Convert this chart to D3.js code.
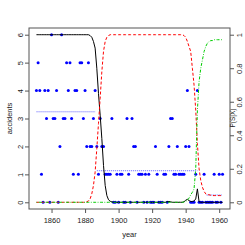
<!DOCTYPE html>
<html>
<head>
<meta charset="utf-8">
<script src="https://cdn.jsdelivr.net/npm/d3@7"></script>
<style>
  body { margin: 0; background: #fff; }
  svg { display: block; font-family: "Liberation Sans", Arial, sans-serif; }
</style>
</head>
<body>
<svg id="chart"></svg>
<script>
var firstYear = 1851;

// accidents per year, 1851-1962
var accidents = [4,5,4,1,0,4,3,4,0,6,3,3,4,0,2,6,3,3,5,4,5,3,1,4,4,1,5,5,3,4,
  2,5,2,2,3,4,2,1,3,2,2,1,1,1,1,3,0,0,1,0,1,1,0,0,3,1,0,3,2,2,
  0,1,1,1,0,1,0,1,0,0,0,2,1,0,0,0,1,1,0,2,3,3,1,1,2,1,1,1,1,2,
  4,2,0,0,0,1,4,0,0,0,1,0,0,0,0,0,1,0,0,1,0,1];

// posterior state probabilities, one per year
var pState1 = [1,1,1,1,1,1,1,1,1,1, 1,1,1,1,1,1,1,1,1,1,
  1,1,1,1,1,1,1,1,1,1, 1,1,0.995,0.985,0.96,0.92,0.8,0.65,0.52,0.38,
  0.22,0.1,0.04,0.015,0.006,0.003,0,0,0,0, 0,0,0,0,0,0,0,0,0,0,
  0,0,0,0,0,0,0,0,0,0, 0,0,0,0,0,0,0,0,0.003,0.005,
  0.003,0,0,0,0,0,0,0,0.003,0.012, 0.018,0.01,0.005,0.004,0.008,0.02,0.08,0.003,0,0,
  0,0,0,0,0,0,0,0,0,0, 0,0];

var pState2 = [0,0,0,0,0,0,0,0,0,0, 0,0,0,0,0,0,0,0,0,0,
  0,0,0,0,0,0,0,0,0,0, 0.003,0.008,0.02,0.05,0.1,0.18,0.32,0.47,0.62,0.78,
  0.9,0.96,0.985,0.995,1,1,1,1,1,1, 1,1,1,1,1,1,1,1,1,1,
  1,1,1,1,1,1,1,1,1,1, 1,1,1,1,1,1,1,1,1,1,
  1,1,1,1,1,1,1,1,0.995,0.985, 0.96,0.93,0.9,0.8,0.7,0.55,0.35,0.2,0.13,0.09,
  0.065,0.05,0.045,0.045,0.042,0.04,0.04,0.04,0.04,0.04, 0.04,0.04];

var pState3 = [0,0,0,0,0,0,0,0,0,0, 0,0,0,0,0,0,0,0,0,0,
  0,0,0,0,0,0,0,0,0,0, 0,0,0,0,0,0,0,0,0,0,
  0,0,0,0,0,0,0,0,0,0, 0,0,0,0,0,0,0,0,0,0,
  0,0,0,0,0,0,0,0,0,0, 0,0,0,0,0,0,0,0,0,0,
  0,0,0,0,0,0,0,0,0.002,0.005, 0.012,0.025,0.045,0.06,0.08,0.2,0.55,0.72,0.8,0.85,
  0.9,0.93,0.95,0.96,0.965,0.965,0.97,0.97,0.97,0.97, 0.97,0.97];

// segment means (dotted blue)
var segStart = [1851, 1887, 1952.5];
var segEnd = [1886, 1947, 1962];
var segMean = [3.24, 1.13, 0.26];

var xTicks = [1860, 1880, 1900, 1920, 1940, 1960];
var yTicks = [0, 1, 2, 3, 4, 5, 6];
var pTicks = [0, 0.2, 0.4, 0.6, 0.8, 1];

var width = 245, height = 245;
var box = { left: 29, right: 230, top: 28, bottom: 209 };

var svg = d3.select("#chart").attr("width", width).attr("height", height);

var years = accidents.map(function(d, i) { return firstYear + i; });

var x = d3.scaleLinear().domain([1846.56, 1966.44]).range([box.left, box.right]);
var y = d3.scaleLinear().domain([-0.24, 6.24]).range([box.bottom, box.top]);
var yP = d3.scaleLinear().domain([-0.04, 1.04]).range([box.bottom, box.top]);

// points
svg.append("g")
  .selectAll("circle")
  .data(accidents)
  .join("circle")
    .attr("cx", function(d, i) { return x(years[i]); })
    .attr("cy", function(d) { return y(d); })
    .attr("r", 1.5)
    .attr("fill", "#0000ff");

// segment means
svg.append("g")
  .selectAll("line")
  .data(segMean)
  .join("line")
    .attr("x1", function(d, i) { return x(segStart[i]); })
    .attr("x2", function(d, i) { return x(segEnd[i]); })
    .attr("y1", function(d) { return y(d); })
    .attr("y2", function(d) { return y(d); })
    .attr("stroke", "#7878ff")
    .attr("stroke-width", 1)
    .attr("stroke-dasharray", "1.2,0.8");

// probability curves
var pLine = d3.line()
  .x(function(d, i) { return x(years[i]); })
  .y(function(d) { return yP(d); });

svg.append("path").datum(pState1)
  .attr("d", pLine).attr("fill", "none")
  .attr("stroke", "#000").attr("stroke-width", 1);

svg.append("path").datum(pState2)
  .attr("d", pLine).attr("fill", "none")
  .attr("stroke", "#ff0000").attr("stroke-width", 1)
  .attr("stroke-dasharray", "3,2");

svg.append("path").datum(pState3)
  .attr("d", pLine).attr("fill", "none")
  .attr("stroke", "#00cd00").attr("stroke-width", 1)
  .attr("stroke-dasharray", "0.8,1.5,3,1.5");

// box
svg.append("rect")
  .attr("x", box.left).attr("y", box.top)
  .attr("width", box.right - box.left).attr("height", box.bottom - box.top)
  .attr("fill", "none").attr("stroke", "#555").attr("stroke-width", 1);

// axes
var fontSize = "7.5px";

var xAxis = svg.append("g")
  .attr("transform", "translate(0," + box.bottom + ")")
  .call(d3.axisBottom(x).tickValues(xTicks).tickSize(4).tickFormat(d3.format("d")));
xAxis.select(".domain").remove();
xAxis.selectAll("line").attr("stroke", "#555");
xAxis.selectAll("text")
  .attr("y", 8.5).attr("fill", "#222")
  .style("font-size", fontSize).style("font-family", "Liberation Sans, Arial, sans-serif");

var yAxis = svg.append("g")
  .attr("transform", "translate(" + box.left + ",0)")
  .call(d3.axisLeft(y).tickValues(yTicks).tickSize(4).tickFormat(d3.format("d")));
yAxis.select(".domain").remove();
yAxis.selectAll("line").attr("stroke", "#555");
yAxis.selectAll("text")
  .attr("transform", "rotate(-90)")
  .attr("x", 0).attr("y", -6).attr("dy", 0)
  .attr("fill", "#222")
  .style("text-anchor", "middle")
  .style("font-size", fontSize).style("font-family", "Liberation Sans, Arial, sans-serif");

var pAxis = svg.append("g")
  .attr("transform", "translate(" + box.right + ",0)")
  .call(d3.axisRight(yP).tickValues(pTicks).tickSize(4).tickFormat(function(d) { return String(d); }));
pAxis.select(".domain").remove();
pAxis.selectAll("line").attr("stroke", "#555");
pAxis.selectAll("text")
  .attr("transform", "rotate(-90)")
  .attr("x", 0).attr("y", 11.5).attr("dy", 0)
  .attr("fill", "#222")
  .style("text-anchor", "middle")
  .style("font-size", fontSize).style("font-family", "Liberation Sans, Arial, sans-serif");

// axis titles
svg.append("text")
  .attr("x", (box.left + box.right) / 2).attr("y", 237)
  .attr("text-anchor", "middle").attr("fill", "#222")
  .style("font-size", fontSize)
  .text("year");

svg.append("text")
  .attr("transform", "translate(12," + (box.top + box.bottom) / 2 + ") rotate(-90)")
  .attr("text-anchor", "middle").attr("fill", "#222")
  .style("font-size", fontSize)
  .text("accidents");

svg.append("text")
  .attr("transform", "translate(235,118) rotate(-90)")
  .attr("text-anchor", "middle").attr("fill", "#222")
  .style("font-size", "6.5px")
  .text("P(S|X)");
</script>
</body>
</html>
